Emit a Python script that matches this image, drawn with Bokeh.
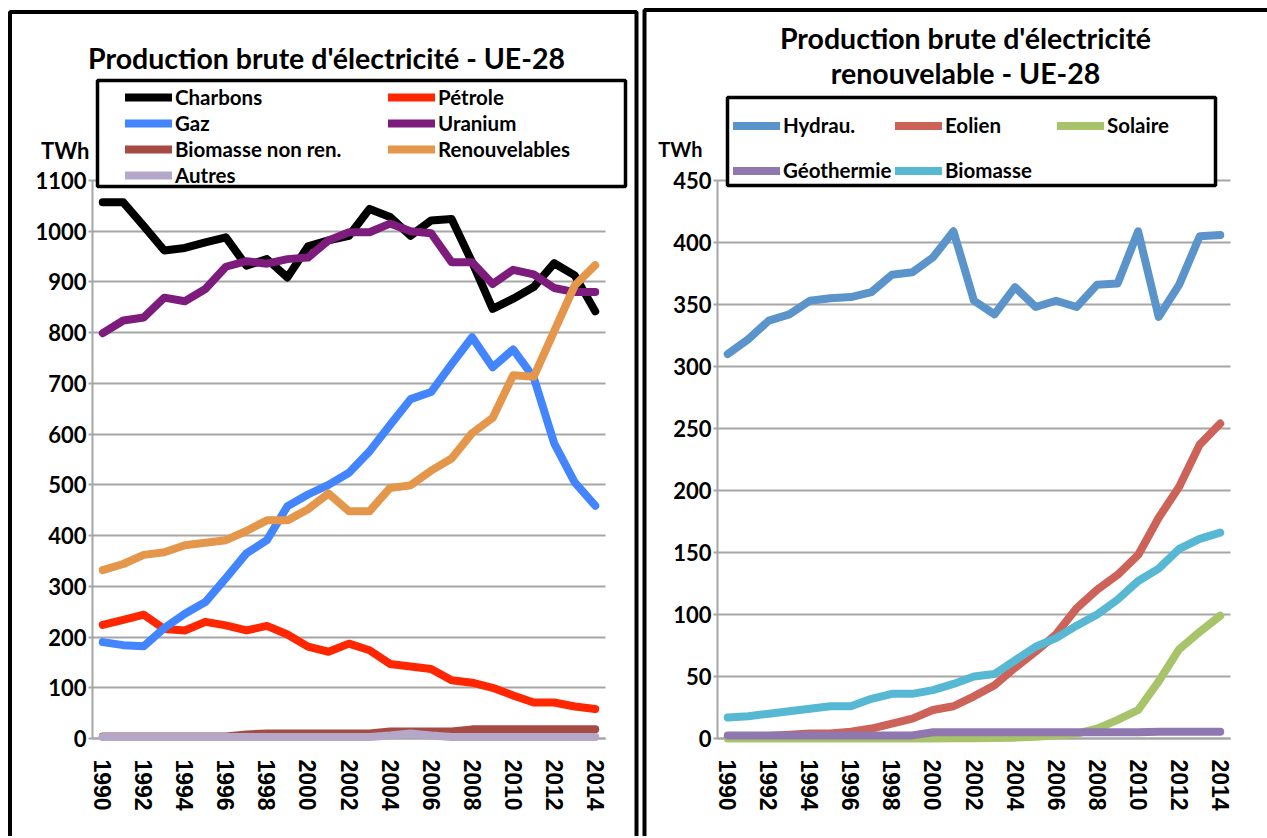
from bokeh.plotting import figure
from bokeh.models import (Legend, LegendItem, Label, BoxAnnotation, FixedTicker,
                          Range1d, ColumnDataSource)
from bokeh.layouts import row
from bokeh.embed import file_html
from bokeh.resources import INLINE

# ---------------- data ----------------
years = list(range(1990, 2015))
even_years = list(range(1990, 2015, 2))

charbons = [1057, 1057, 1010, 962, 967, 978, 988, 932, 945, 909, 970, 982, 991,
            1044, 1028, 991, 1021, 1024, 939, 847, 867, 890, 937, 913, 842]
petrole = [224, 234, 244, 216, 213, 230, 223, 213, 222, 205, 181, 171, 187,
           174, 147, 142, 137, 115, 110, 100, 85, 71, 71, 63, 58]
gaz = [190, 184, 182, 218, 246, 269, 316, 365, 391, 458, 481, 500, 524,
       566, 618, 669, 683, 738, 791, 732, 767, 712, 582, 505, 459]
uranium = [799, 824, 830, 869, 862, 886, 930, 941, 936, 945, 948, 982, 998,
           998, 1015, 1000, 996, 939, 939, 896, 924, 915, 888, 880, 880]
biomasse_non_ren = [4, 4, 4, 4, 4, 4, 4, 8, 10, 10, 10, 10, 10,
                    10, 14, 14, 14, 14, 18, 18, 18, 18, 18, 18, 18]
renouvelables = [332, 344, 362, 367, 381, 386, 391, 409, 430, 430, 452, 483, 448,
                 448, 494, 499, 528, 552, 602, 632, 716, 713, 803, 893, 933]
autres = [3, 3, 3, 3, 3, 3, 3, 3, 3, 3, 3, 3, 3,
          3, 6, 10, 6, 3, 3, 3, 3, 3, 3, 3, 3]

hydrau = [310, 322, 337, 342, 353, 355, 356, 360, 374, 376, 388, 409, 353,
          342, 364, 348, 353, 348, 366, 367, 409, 340, 366, 405, 406]
eolien = [1, 1, 2, 3, 4, 4, 5.5, 8, 12, 16, 23, 26, 34,
          43, 57, 70, 84, 105, 120, 132, 148, 178, 203, 237, 254]
solaire = [0, 0, 0, 0, 0, 0, 0, 0, 0, 0, 0.1, 0.2, 0.3,
           0.5, 0.7, 1.5, 2.5, 4, 8, 15, 23, 46, 72, 86, 99]
geothermie = [2.5, 2.5, 2.5, 2.5, 2.5, 2.5, 2.5, 2.5, 2.5, 2.5, 5, 5, 5,
              5, 5, 5, 5, 5, 5, 5, 5, 5.5, 5.5, 5.5, 5.5]
biomasse = [17, 18, 20, 22, 24, 26, 26, 32, 36, 36, 39, 44, 50,
            52, 63, 74, 81, 91, 100, 112, 127, 137, 153, 161, 166]

left_names = ["Charbons", "Pétrole", "Gaz", "Uranium", "Biomasse non ren.",
              "Renouvelables", "Autres"]
left_series = [charbons, petrole, gaz, uranium, biomasse_non_ren, renouvelables, autres]
left_colors = ["#000000", "#FF2600", "#4384FF", "#7D1C7C", "#A64B44", "#E4964B", "#B4A7C8"]

right_names = ["Hydrau.", "Eolien", "Solaire", "Géothermie", "Biomasse"]
right_series = [hydrau, eolien, solaire, geothermie, biomasse]
right_colors = ["#5B94CB", "#CD6258", "#A7C46B", "#8F77B0", "#56B8D2"]

FONT = "Lato"
XFONT = "Liberation Sans"
GRID = "#A6A6A6"
H = 836          # canvas height (canvas top sits at page y 0)
PLOT_W = 513     # width of the plotting area in px
LW = 8


class Panel:
    """Figure whose frame covers the whole canvas; axes are pinned inside."""

    def __init__(self, width, page_x0, axis_px, ymax, ystep):
        self.page_x0 = page_x0
        self.axis_px = axis_px            # page x of the value axis
        self.ymax = ymax
        self.ppy = PLOT_W / 25.0          # px per year
        self.ppv = 558.0 / ymax           # px per unit (0 at page 738, ymax at 180)
        x0 = self.X(page_x0)
        x1 = self.X(page_x0 + width)
        y0 = self.Y(H)
        y1 = self.Y(0)
        p = figure(width=width, height=H, output_backend="svg", toolbar_location=None,
                   x_range=Range1d(x0, x1), y_range=Range1d(y0, y1),
                   min_border=0, min_border_left=0, min_border_right=0,
                   min_border_top=0, min_border_bottom=0)
        p.outline_line_color = None
        p.background_fill_color = "white"
        p.border_fill_color = "white"
        p.xgrid.visible = False
        p.ygrid.visible = False

        ya = p.yaxis[0]
        ya.fixed_location = 1989.5
        ya.bounds = (0, ymax)
        ya.level = "underlay"
        ya.ticker = FixedTicker(ticks=list(range(0, ymax + 1, ystep)))
        ya.major_label_text_font = FONT
        ya.major_label_text_font_size = "22px"
        ya.major_label_text_font_style = "bold"
        ya.major_label_text_color = "black"
        ya.axis_line_color = GRID
        ya.axis_line_width = 2
        ya.major_tick_line_color = GRID
        ya.major_tick_line_width = 2
        ya.major_tick_out = 4
        ya.major_tick_in = PLOT_W      # ticks drawn across the plot = grid lines
        ya.minor_tick_line_color = None
        ya.major_label_standoff = 2

        xa = p.xaxis[0]
        xa.fixed_location = 0
        xa.bounds = (1989.5, 2014.5)
        xa.level = "underlay"
        xa.ticker = FixedTicker(ticks=even_years)
        xa.major_label_orientation = "vertical"
        xa.major_label_text_font = XFONT
        xa.major_label_text_font_size = "23px"
        xa.major_label_text_font_style = "bold"
        xa.major_label_text_color = "black"
        xa.axis_line_color = GRID
        xa.axis_line_width = 2
        xa.major_tick_line_color = None
        xa.major_tick_out = 0
        xa.major_tick_in = 0
        xa.minor_tick_line_color = None
        xa.major_label_standoff = 21
        self.p = p

    # page pixel -> data coordinate helpers (for annotation placement only)
    def X(self, px):
        return 1989.5 + (px - self.axis_px) / self.ppy

    def Y(self, py):
        return (738 - py) / self.ppv

    def lines(self, names, series, colors):
        data = {"year": years}
        for i, s in enumerate(series):
            data["s%d" % i] = s
        src = ColumnDataSource(data)
        items = []
        for i, (n, c) in enumerate(zip(names, colors)):
            r = self.p.line(x="year", y="s%d" % i, source=src, line_color=c,
                            line_width=LW, line_cap="round", line_join="round")
            items.append(LegendItem(label=n, renderers=[r]))
        return items

    def box(self, l, t, r, b, lw, fill):
        self.p.add_layout(BoxAnnotation(left=self.X(l), right=self.X(r),
                                        top=self.Y(t), bottom=self.Y(b),
                                        fill_color="white", fill_alpha=1 if fill else 0,
                                        line_color="black", line_alpha=1, line_width=lw,
                                        level="annotation"))

    def text(self, px, py, txt, size, align="center"):
        self.p.add_layout(Label(x=self.X(px), y=self.Y(py), text=txt,
                                text_align=align, text_baseline="middle", text_font=FONT,
                                text_font_size=size, text_font_style="bold",
                                text_color="black"))

    def legend(self, items, ncols, left_px, top_px, row_h, label_w):
        nrows = -(-len(items) // ncols)
        height = nrows * row_h + (nrows - 1) * 2
        leg = Legend(items=items, orientation="horizontal", ncols=ncols,
                     location=(left_px - self.page_x0, H - (top_px + height)),
                     glyph_width=47, glyph_height=row_h, label_height=row_h,
                     label_width=label_w, label_standoff=3, spacing=2,
                     padding=0, margin=0, border_line_alpha=0, background_fill_alpha=0,
                     label_text_font=FONT, label_text_font_style="bold",
                     label_text_font_size="20.5px", label_text_color="black")
        self.p.add_layout(leg, "center")


# ---------------- left panel ----------------
L = Panel(640, 0, 92, 1100, 100)
items_l = L.lines(left_names, left_series, left_colors)
L.box(9.5, 11.5, 636, 1300, 4, False)
L.box(97, 80, 625, 186, 3.5, True)
L.legend(items_l, 2, 125, 85, 24, 211)
L.text(326, 57, "Production brute d'électricité - UE-28", "28.5px")
L.text(89, 150, "TWh", "22px", align="right")

# ---------------- right panel ----------------
R = Panel(627, 640, 717, 450, 50)
items_r = R.lines(right_names, right_series, right_colors)
R.box(644, 9.5, 1400, 1300, 4, False)
R.box(727, 97, 1215, 185, 3.5, True)
R.legend(items_r, 3, 733, 103.5, 43, 110)
R.text(965, 37, "Production brute d'électricité", "28.5px")
R.text(965, 72, "renouvelable - UE-28", "28.5px")
R.text(702, 148, "TWh", "20px", align="right")

layout = row(L.p, R.p)
open("out.html", "w").write(file_html(layout, INLINE))
